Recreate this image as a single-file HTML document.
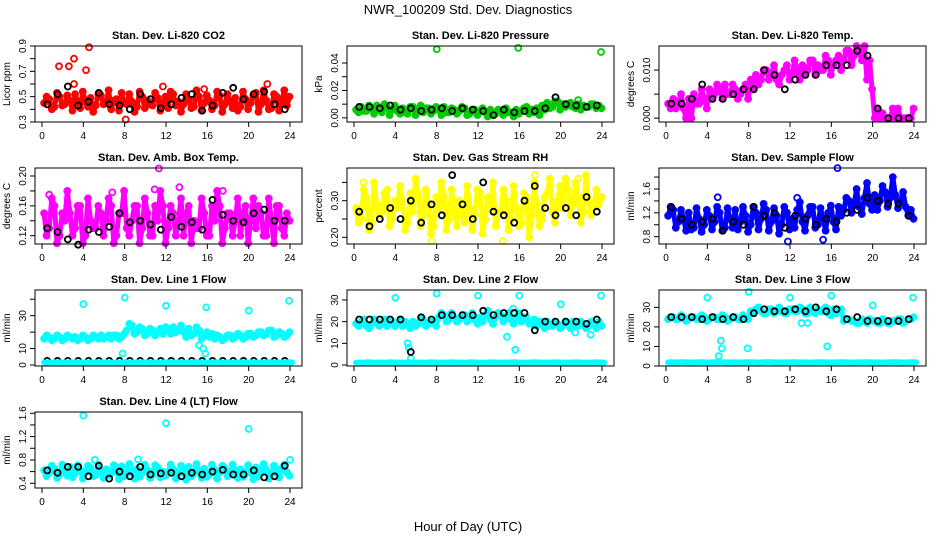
<!DOCTYPE html>
<html><head><meta charset="utf-8"><style>
html,body{margin:0;padding:0;background:#fff;}
svg{display:block;font-family:"Liberation Sans",sans-serif;}
</style></head><body>
<svg id="c" width="936" height="540" viewBox="0 0 936 540">
<text x="468" y="14" text-anchor="middle" font-size="13">NWR_100209  Std. Dev. Diagnostics</text>
<text x="468" y="531" text-anchor="middle" font-size="13">Hour of Day (UTC)</text>
</svg>
<script>
const xTicks=[0,4,8,12,16,20,24];
const titles=["Stan. Dev. Li-820 CO2","Stan. Dev. Li-820 Pressure","Stan. Dev. Li-820 Temp.","Stan. Dev. Amb. Box Temp.","Stan. Dev. Gas Stream RH","Stan. Dev. Sample Flow","Stan. Dev. Line 1 Flow","Stan. Dev. Line 2 Flow","Stan. Dev. Line 3 Flow","Stan. Dev. Line 4 (LT) Flow"];
const yTitles=["Licor ppm","kPa","degrees C","degrees C","percent","ml/min","ml/min","ml/min","ml/min","ml/min"];
const colors=["#ff0000","#00cc00","#ff00ff","#ff00ff","#ffff00","#0000ff","#00ffff","#00ffff","#00ffff","#00ffff"];
const yRanges=[[0.3,0.9],[-0.003,0.0524],[-0.0008,0.015],[0.1089,0.2107],[0.1817,0.3893],[0.6775,1.952],[-0.6,45.6],[-0.46,34.6],[-0.02,38.9],[0.319,1.622]];
const yTickVals=[[0.3,0.4,0.5,0.6,0.7,0.8,0.9],[0,0.01,0.02,0.03,0.04],[0,0.005,0.01],[0.12,0.14,0.16,0.18,0.2],[0.2,0.25,0.3,0.35],[0.8,1.0,1.2,1.4,1.6,1.8],[0,10,20,30,40],[0,10,20,30],[0,10,20,30],[0.4,0.6,0.8,1.0,1.2,1.4,1.6]];
const yTickLabels=[["0.3","","0.5","","0.7","","0.9"],["0.00","","0.02","","0.04"],["0.000","","0.010"],["0.12","","0.16","","0.20"],["0.20","","0.30",""],["0.8","","1.2","","1.6",""],["0","10","","30",""],["0","10","20","30"],["0","10","20","30"],["0.4","","0.8","","1.2","","1.6"]];
const seriesA=[
[0.45,0.48,0.42,0.50,0.44,0.47,0.52,0.41,0.46,0.49,0.43,0.51,0.45,0.40,0.48,0.53,0.44,0.46,0.42,0.50,0.47,0.43,0.49,0.45,0.41,0.52,0.46,0.44,0.48,0.42,0.50,0.45,0.47,0.43,0.51,0.44,0.46,0.49,0.42,0.48,0.45,0.53,0.44,0.47,0.41,0.50,0.46,0.43],
[0.006,0.008,0.005,0.007,0.009,0.004,0.008,0.006,0.005,0.007,0.003,0.008,0.006,0.004,0.007,0.005,0.006,0.008,0.004,0.006,0.005,0.007,0.003,0.006,0.005,0.004,0.006,0.003,0.005,0.007,0.004,0.006,0.005,0.008,0.006,0.007,0.009,0.011,0.008,0.012,0.010,0.009,0.008,0.010,0.009,0.008,0.010,0.009],
[0.003,0.004,0.003,0.002,0.004,0.005,0.003,0.004,0.006,0.005,0.006,0.007,0.005,0.006,0.005,0.007,0.008,0.009,0.008,0.010,0.009,0.008,0.009,0.011,0.009,0.010,0.011,0.010,0.012,0.011,0.010,0.012,0.011,0.013,0.012,0.014,0.013,0.014,0.015,0.012,0.000,0.000,0.000,0.000,0.000,0.000,0.000,0.000],
[0.15,0.13,0.16,0.12,0.14,0.15,0.13,0.16,0.12,0.14,0.13,0.15,0.14,0.16,0.12,0.15,0.13,0.14,0.16,0.13,0.15,0.12,0.14,0.16,0.13,0.15,0.14,0.12,0.16,0.14,0.13,0.15,0.12,0.14,0.16,0.13,0.15,0.14,0.12,0.16,0.14,0.13,0.15,0.12,0.14,0.16,0.13,0.15],
[0.28,0.25,0.31,0.24,0.29,0.27,0.33,0.25,0.28,0.30,0.24,0.27,0.32,0.26,0.29,0.23,0.28,0.31,0.25,0.27,0.30,0.24,0.28,0.26,0.32,0.25,0.29,0.23,0.27,0.30,0.25,0.28,0.24,0.31,0.26,0.29,0.25,0.32,0.27,0.30,0.28,0.33,0.29,0.31,0.27,0.30,0.28,0.29],
[1.15,1.25,1.05,1.10,1.20,0.95,1.10,1.00,1.15,1.05,1.20,0.95,1.10,1.25,1.05,1.15,1.00,1.20,1.10,1.25,1.05,1.15,1.00,1.20,1.10,1.25,1.05,1.15,1.30,1.00,1.10,1.20,1.05,1.30,1.25,1.40,1.35,1.30,1.45,1.35,1.50,1.40,1.55,1.45,1.50,1.40,1.30,1.25],
[16,17,16,17,16,17,17,16,17,16,17,18,17,16,18,17,21,24,20,22,19,21,20,19,22,23,21,20,22,19,21,18,17,16,17,16,18,17,18,17,19,18,20,19,21,18,19,18],
[19,20,18,19,20,19,18,20,19,18,19,20,19,21,19,20,22,23,21,22,21,23,22,21,22,23,21,22,23,22,21,22,20,22,19,18,19,20,18,19,18,19,20,18,19,18,19,20],
[24,25,24,25,24,25,24,25,24,25,24,25,24,25,24,25,28,29,28,27,29,28,28,27,29,28,29,27,28,29,28,27,29,28,23,24,23,22,23,24,23,22,23,22,23,24,23,24],
[0.62,0.58,0.65,0.55,0.60,0.68,0.57,0.63,0.59,0.66,0.54,0.61,0.64,0.57,0.62,0.69,0.56,0.60,0.65,0.58,0.63,0.55,0.67,0.60,0.58,0.64,0.56,0.62,0.68,0.57,0.61,0.65,0.55,0.63,0.59,0.66,0.57,0.62,0.64,0.56,0.60,0.67,0.58,0.63,0.55,0.61,0.66,0.59]];
const seriesB=[
[0.50,0.40,0.53,0.43,0.51,0.39,0.46,0.54,0.42,0.38,0.52,0.44,0.55,0.47,0.39,0.45,0.52,0.38,0.54,0.41,0.44,0.53,0.39,0.50,0.54,0.43,0.38,0.52,0.41,0.55,0.39,0.51,0.40,0.54,0.38,0.52,0.41,0.39,0.54,0.40,0.51,0.38,0.55,0.40,0.52,0.39,0.55,0.50],
[0.004,0.005,0.009,0.003,0.006,0.010,0.002,0.009,0.003,0.004,0.008,0.002,0.009,0.007,0.003,0.008,0.002,0.004,0.007,0.003,0.008,0.002,0.006,0.002,0.007,0.001,0.003,0.006,0.002,0.004,0.001,0.003,0.007,0.003,0.004,0.002,0.006,0.007,0.012,0.006,0.008,0.011,0.007,0.006,0.008,0.010,0.007,0.007],
[0.002,0.002,0.005,0.000,0.000,0.003,0.006,0.002,0.004,0.007,0.004,0.005,0.007,0.004,0.006,0.004,0.006,0.007,0.010,0.008,0.011,0.007,0.010,0.008,0.012,0.008,0.009,0.012,0.009,0.010,0.013,0.009,0.012,0.010,0.014,0.011,0.015,0.012,0.008,0.006,0.002,0.001,0.000,0.002,0.002,0.000,0.000,0.002],
[0.12,0.17,0.11,0.15,0.18,0.12,0.16,0.11,0.17,0.13,0.16,0.12,0.17,0.11,0.15,0.18,0.12,0.16,0.11,0.17,0.12,0.16,0.18,0.11,0.16,0.12,0.17,0.15,0.11,0.13,0.17,0.12,0.16,0.18,0.11,0.15,0.12,0.17,0.15,0.11,0.17,0.16,0.12,0.17,0.11,0.16,0.12,0.14],
[0.24,0.33,0.22,0.35,0.26,0.32,0.23,0.30,0.34,0.22,0.32,0.36,0.23,0.33,0.21,0.31,0.35,0.22,0.33,0.23,0.26,0.34,0.22,0.33,0.21,0.31,0.35,0.27,0.33,0.22,0.34,0.23,0.32,0.20,0.35,0.23,0.31,0.36,0.24,0.34,0.36,0.26,0.35,0.24,0.37,0.26,0.33,0.31],
[1.30,0.95,1.25,0.90,0.92,1.28,0.88,1.25,0.92,1.30,0.90,1.28,0.95,0.92,1.30,0.88,1.30,0.92,1.35,0.90,1.28,0.85,1.30,0.92,0.95,1.38,0.90,1.30,0.95,1.28,0.90,1.32,0.92,1.15,1.45,1.20,1.60,1.18,1.70,1.25,1.25,1.65,1.30,1.80,1.28,1.55,1.15,1.10],
[18,15,18,15,18,16,15,18,15,18,16,16,18,18,16,19,25,19,23,18,22,18,22,23,19,20,24,17,18,23,16,20,19,18,15,18,16,19,16,19,17,20,18,21,17,20,17,20],
[18,21,17,21,18,21,20,18,21,20,17,18,21,18,20,18,24,20,24,20,23,20,24,19,20,25,19,24,20,24,19,24,22,19,21,20,17,18,20,17,20,17,18,20,17,20,17,18],
[25,24,26,23,25,24,26,23,25,24,26,23,25,24,26,24,27,30,27,29,27,30,27,29,28,30,27,30,27,28,30,26,27,29,24,23,22,24,22,23,22,24,22,23,24,22,24,25],
[0.52,0.70,0.49,0.72,0.53,0.50,0.71,0.48,0.70,0.52,0.72,0.49,0.53,0.71,0.47,0.52,0.73,0.48,0.51,0.72,0.49,0.71,0.50,0.53,0.72,0.48,0.70,0.46,0.52,0.73,0.49,0.51,0.72,0.48,0.70,0.52,0.72,0.49,0.51,0.71,0.47,0.52,0.73,0.48,0.70,0.50,0.72,0.53]];
const lowSeries=[null,null,null,null,null,null,
[1.5,1.4,1.6,1.5,1.3,1.5,1.6,1.4,1.5,1.5,1.6,1.4,1.5,1.3,1.5,1.6,1.5,1.4,1.5,1.6,1.5,1.4,1.5,1.5,1.6,1.4,1.5,1.3,1.5,1.6,1.5,1.4,1.5,1.6,1.5,1.4,1.5,1.5,1.6,1.4,1.5,1.3,1.5,1.6,1.5,1.4,1.5,1.6],
[1.1,1.0,1.2,1.0,1.1,1.0,1.2,1.1,1.0,1.1,1.2,1.0,1.1,1.0,1.2,1.1,1.0,1.1,1.2,1.0,1.1,1.0,1.2,1.1,1.0,1.1,1.2,1.0,1.1,1.0,1.2,1.1,1.0,1.1,1.2,1.0,1.1,1.0,1.2,1.1,1.0,1.1,1.2,1.0,1.1,1.0,1.2,1.1],
[1.8,1.7,1.9,1.8,1.7,1.8,1.9,1.7,1.8,1.8,1.9,1.7,1.8,1.7,1.8,1.9,1.8,1.7,1.8,1.9,1.8,1.7,1.8,1.8,1.9,1.7,1.8,1.7,1.8,1.9,1.8,1.7,1.8,1.9,1.8,1.7,1.8,1.8,1.9,1.7,1.8,1.7,1.8,1.9,1.8,1.7,1.8,1.9],null];
const outliers=[
[[1.65,0.74],[2.6,0.74],[3.1,0.80],[4.26,0.71],[4.55,0.89],[3.1,0.60],[8.1,0.32],[11.7,0.58],[15.7,0.56],[21.8,0.60]],
[[8.0,0.050],[15.9,0.051],[23.9,0.048],[21.7,0.013]],
[],
[[11.3,0.21],[0.7,0.175],[10.9,0.182],[13.3,0.185],[17.5,0.18],[6.8,0.178]],
[[0.9,0.35],[7.5,0.19],[14.4,0.19],[21.7,0.36],[17.5,0.37]],
[[5.0,1.46],[16.6,1.95],[12.7,1.45],[11.8,0.72],[15.2,0.75]],
[[4.0,37],[8.0,41],[12.0,36],[15.9,35],[20.0,33],[23.9,39],[7.8,7],[15.2,12],[15.6,10],[15.8,7]],
[[4,31],[8,33],[12,32],[16,32],[20,28],[23.9,32],[5.2,10],[5.3,8],[5.5,3],[14.8,13],[15.6,7],[15.4,26],[22.9,14],[21.4,15]],
[[4,35],[8,38],[12,35],[16,36],[20,31],[23.9,35],[5.3,13],[5.4,9],[7.9,9],[15.6,10],[13.1,22],[13.7,22],[5.1,5]],
[[4,1.56],[12,1.43],[20,1.33],[24,0.80],[5.1,0.80],[9.3,0.81]]];
const blackSeries=[
[0.44,0.52,0.58,0.43,0.46,0.53,0.44,0.43,0.40,0.52,0.48,0.41,0.44,0.49,0.52,0.39,0.43,0.53,0.57,0.48,0.52,0.54,0.44,0.40],
[0.008,0.008,0.007,0.009,0.006,0.007,0.005,0.006,0.007,0.005,0.007,0.006,0.005,0.002,0.006,0.004,0.005,0.005,0.007,0.015,0.010,0.009,0.008,0.009],
[0.003,0.003,0.004,0.007,0.004,0.004,0.005,0.006,0.006,0.010,0.009,0.006,0.008,0.009,0.009,0.011,0.011,0.011,0.014,0.013,0.002,0.000,0.000,0.000],
[0.130,0.125,0.115,0.108,0.128,0.125,0.132,0.150,0.138,0.140,0.135,0.128,0.145,0.132,0.138,0.128,0.168,0.148,0.140,0.138,0.150,0.155,0.140,0.140],
[0.27,0.23,0.25,0.28,0.25,0.30,0.24,0.29,0.26,0.37,0.29,0.25,0.35,0.27,0.26,0.24,0.30,0.34,0.28,0.26,0.28,0.26,0.31,0.27],
[1.30,1.10,1.00,1.05,1.10,0.90,1.05,1.00,1.30,1.15,1.20,0.95,1.15,1.10,1.00,1.10,1.05,1.20,1.25,1.45,1.40,1.35,1.35,1.15],
[2.5,2.5,2.5,2.5,2.5,2.5,2.5,2.5,2.5,2.5,2.5,2.5,2.5,2.5,2.5,2.5,2.5,2.5,2.5,2.5,2.5,2.5,2.5,2.5],
[21,21,21,21,21,6,22,21,23,23,23,23,25,23,24,24,24,16,20,20,20,20,19,21],
[25,25,25,24,25,24,25,24,27,29,28,28,29,28,30,28,29,24,25,23,23,23,23,24],
[0.62,0.58,0.68,0.68,0.52,0.70,0.48,0.60,0.52,0.68,0.55,0.57,0.58,0.52,0.58,0.55,0.60,0.63,0.55,0.55,0.62,0.50,0.52,0.70]];

const NS="http://www.w3.org/2000/svg";
const svg=document.getElementById('c');
function mk(tag,attrs,parent){const e=document.createElementNS(NS,tag);for(const k in attrs)e.setAttribute(k,attrs[k]);(parent||svg).appendChild(e);return e;}
for(let p=0;p<10;p++){
  const col=p%3,row=Math.floor(p/3);
  const L=35+312*col,R=302+312*col,T=46+122*row,B=122+122*row;
  const x0=42+312*col,xw=248;
  const xs=h=>x0+h/24*xw;
  const [ymin,ymax]=yRanges[p];
  const ys=v=>B-(v-ymin)/(ymax-ymin)*(B-T);
  const g=mk('g',{});
  
  
  const t=mk('text',{x:(L+R)/2,y:T-7,'text-anchor':'middle','font-size':11,'font-weight':'bold'},g);
  t.textContent=titles[p];
  
  
  const yt=mk('text',{x:0,y:0,'text-anchor':'middle','font-size':10,transform:`translate(${L-25},${(T+B)/2}) rotate(-90)`},g);
  yt.textContent=yTitles[p];
  
  
  const band=mk('g',{stroke:colors[p],'stroke-width':5,'stroke-linecap':'round'},g);
  
  
  seriesA[p].forEach((v,i)=>{
    const w=seriesB[p][i];
    const e=mk('line',{x1:xs(0.2+i*0.5).toFixed(1),x2:xs(0.45+i*0.5).toFixed(1),y1:ys(v).toFixed(1),y2:ys(w).toFixed(1)},band);
    
    
    if(i<seriesA[p].length-1){const n=seriesA[p][i+1];
      const e2=mk('line',{x1:xs(0.45+i*0.5).toFixed(1),x2:xs(0.7+i*0.5).toFixed(1),y1:ys(w).toFixed(1),y2:ys(n).toFixed(1)},band);
      
      }
  });
  const pts=mk('g',{fill:'none','stroke-width':1.8},g);
  
  
  const dot=(h,v,c)=>{const cy=ys(v);if(cy<T-2||cy>B+2)return;const e=mk('circle',{cx:xs(h).toFixed(1),cy:cy.toFixed(1),r:3,stroke:c},pts);
    
    };
  if(lowSeries[p]){
    const lg=mk('g',{stroke:colors[p],'stroke-width':6,'stroke-linecap':'round'},g);
    
    
    lowSeries[p].forEach((v,i)=>{const e=mk('line',{x1:xs(0.2+i*0.5).toFixed(1),x2:xs(0.7+i*0.5).toFixed(1),y1:ys(v).toFixed(1),y2:ys(v).toFixed(1)},lg);
      
      });
  }
  seriesA[p].forEach((v,i)=>dot(0.2+i*0.5,v,colors[p]));
  seriesB[p].forEach((v,i)=>dot(0.45+i*0.5,v,colors[p]));
  outliers[p].forEach(o=>dot(o[0],o[1],colors[p]));
  blackSeries[p].forEach((v,j)=>dot(0.5+j,v,'#000'));
  const box=mk('rect',{x:L,y:T,width:R-L,height:B-T,fill:'none',stroke:'#000','stroke-width':1},g);
  
  
  xTicks.forEach(h=>{
    mk('line',{x1:xs(h),x2:xs(h),y1:B,y2:B+5,stroke:'#000'},g);
    const tl=mk('text',{x:xs(h),y:B+17,'text-anchor':'middle','font-size':10},g);
    tl.textContent=h;
    
    
  });
  yTickVals[p].forEach((v,i)=>{
    const y=ys(v);
    mk('line',{x1:L-5,x2:L,y1:y,y2:y,stroke:'#000'},g);
    const s=yTickLabels[p][i];
    if(s){const tl=mk('text',{x:0,y:0,'text-anchor':'middle','font-size':10,transform:`translate(${L-9},${y}) rotate(-90)`},g);
      tl.textContent=s;
      
      }
  });
}
</script>
</body></html>
